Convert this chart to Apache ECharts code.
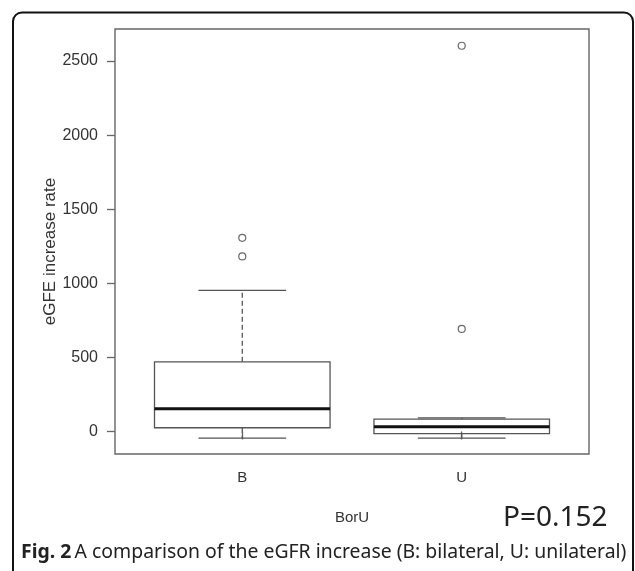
<!DOCTYPE html>
<html>
<head>
<meta charset="utf-8">
<script src="https://cdn.jsdelivr.net/npm/echarts@6/dist/echarts.min.js"></script>
<style>
  html, body { margin: 0; padding: 0; background: #fff; }
  #main { width: 635px; height: 571px; }
</style>
</head>
<body>
<div id="main"></div>
<script>
// data
var categories = ['B', 'U'];
var catPos = [1, 2];
// [min whisker, Q1, median, Q3, max whisker]
var statsB = [-45, 25, 153, 470, 952];
var statsU = [-45, -15, 32, 83, 92];
var outliersB = [1307, 1181];
var outliersU = [2603, 692];
var yTicks = [0, 500, 1000, 1500, 2000, 2500];

var boxData = [
    [catPos[0]].concat(statsB),
    [catPos[1]].concat(statsU)
];
var outlierData = [];
outliersB.forEach(function (v) { outlierData.push([catPos[0], v]); });
outliersU.forEach(function (v) { outlierData.push([catPos[1], v]); });

var lineCol = '#555';
var axisFont = '"Liberation Sans", Arial, sans-serif';

function renderBox(params, api) {
    var x = api.value(0);
    var w = api.size([0.8, 0])[0];
    var cap = w / 2;
    var pMin = api.coord([x, api.value(1)]);
    var pQ1 = api.coord([x, api.value(2)]);
    var pMed = api.coord([x, api.value(3)]);
    var pQ3 = api.coord([x, api.value(4)]);
    var pMax = api.coord([x, api.value(5)]);
    var cx = pMed[0];
    var thin = { stroke: lineCol, lineWidth: 1.3, fill: null };
    var dashed = { stroke: lineCol, lineWidth: 1.3, lineDash: [5, 3], fill: null };
    return {
        type: 'group',
        children: [
            // whiskers
            { type: 'line', shape: { x1: cx, y1: pQ3[1], x2: cx, y2: pMax[1] }, style: dashed },
            { type: 'line', shape: { x1: cx, y1: pQ1[1], x2: cx, y2: pMin[1] }, style: dashed },
            { type: 'line', shape: { x1: cx - cap / 2, y1: pMax[1], x2: cx + cap / 2, y2: pMax[1] }, style: thin },
            { type: 'line', shape: { x1: cx - cap / 2, y1: pMin[1], x2: cx + cap / 2, y2: pMin[1] }, style: thin },
            // box
            { type: 'rect', shape: { x: cx - w / 2, y: pQ3[1], width: w, height: pQ1[1] - pQ3[1] }, style: thin },
            // median
            { type: 'line', shape: { x1: cx - w / 2, y1: pMed[1], x2: cx + w / 2, y2: pMed[1] },
              style: { stroke: '#111', lineWidth: 3 } }
        ]
    };
}

var chart = echarts.init(document.getElementById('main'));
var option = {
    backgroundColor: '#fff',
    animation: false,
    grid: {
        left: 115, right: 46, top: 29, bottom: 117,
        show: true, borderColor: '#666', borderWidth: 1.4
    },
    xAxis: {
        type: 'value',
        min: 0.42, max: 2.58,
        splitLine: { show: false },
        axisLine: { show: false },
        axisTick: { show: true, customValues: catPos, length: 8, lineStyle: { color: '#666', width: 1.3 } },
        axisLabel: {
            customValues: catPos,
            formatter: function (v) { return categories[Math.round(v) - 1]; },
            margin: 16, color: '#333', fontSize: 15, fontFamily: axisFont
        },
        name: 'BorU',
        nameLocation: 'middle',
        nameGap: 56,
        nameMoveOverlap: false,
        nameTextStyle: { color: '#333', fontSize: 15, fontFamily: axisFont }
    },
    yAxis: {
        type: 'value',
        min: -152, max: 2716,
        splitLine: { show: false },
        axisLine: { show: false },
        axisTick: { show: true, customValues: yTicks, length: 8, lineStyle: { color: '#666', width: 1.3 } },
        axisLabel: {
            customValues: yTicks,
            formatter: function (v) { return String(v); },
            margin: 17, color: '#333', fontSize: 16, fontFamily: axisFont
        },
        name: 'eGFE increase rate',
        nameLocation: 'middle',
        nameGap: 56,
        nameMoveOverlap: false,
        nameTextStyle: { color: '#333', fontSize: 17, fontFamily: axisFont, padding: [0, 20, 0, 0] }
    },
    series: [
        {
            type: 'custom',
            renderItem: renderBox,
            data: boxData,
            encode: { x: 0, y: [1, 2, 3, 4, 5] },
            z: 2
        },
        {
            type: 'scatter',
            data: outlierData,
            symbol: 'circle',
            symbolSize: 7,
            itemStyle: { color: '#fff', borderColor: '#444', borderWidth: 1.2 },
            z: 3
        }
    ],
    graphic: [
        {
            type: 'rect',
            shape: { x: 13, y: 12.5, width: 620, height: 600, r: 9 },
            style: { fill: null, stroke: '#111', lineWidth: 2 },
            silent: true
        },
        {
            type: 'text',
            left: 503, top: 504,
            style: { text: 'P=0.152', fill: '#222', font: '28px "Noto Sans", "Open Sans", sans-serif' }
        },
        {
            type: 'text',
            left: 21, top: 543,
            style: {
                rich: {
                    b: { fontWeight: 'bold', fontSize: 19.4, fontFamily: 'Noto Sans', fill: '#222' },
                    n: { fontSize: 19.4, fontFamily: 'Noto Sans', fill: '#222' }
                },
                text: '{b|Fig. 2} {n|A comparison of the eGFR increase (B: bilateral, U: unilateral)}'
            }
        }
    ]
};
chart.setOption(option);
</script>
</body>
</html>
